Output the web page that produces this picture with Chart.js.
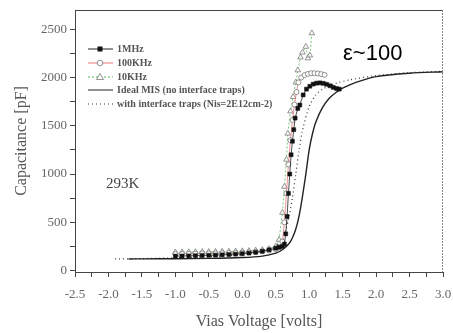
<!DOCTYPE html>
<html>
<head>
<meta charset="utf-8">
<script src="https://cdn.jsdelivr.net/npm/chart.js@4/dist/chart.umd.min.js"></script>
<style>
  html, body { margin: 0; padding: 0; background: #fff; }
  #wrap { width: 453px; height: 333px; }
</style>
</head>
<body>
<div id="wrap"><canvas id="cvChart" width="453" height="333"></canvas></div>
<script>
// ---------- data ----------
const mhzV = [-1.0, -0.9, -0.8, -0.7, -0.6, -0.5, -0.4, -0.3, -0.2, -0.1, 0.0, 0.1, 0.2, 0.3, 0.4, 0.5, 0.55, 0.6, 0.63, 0.65, 0.67, 0.69, 0.71, 0.73, 0.75, 0.77, 0.79, 0.83, 0.86, 0.91, 0.96, 1.01, 1.06, 1.11, 1.16, 1.21, 1.26, 1.31, 1.36, 1.41, 1.45];
const mhzC = [150, 151, 152, 154, 156, 158, 160, 163, 166, 170, 175, 181, 189, 200, 215, 232, 242, 250, 275, 380, 560, 800, 1000, 1200, 1340, 1460, 1580, 1680, 1715, 1820, 1880, 1910, 1932, 1942, 1945, 1940, 1930, 1915, 1898, 1886, 1880];

const khz100V = [-1.0, -0.9, -0.8, -0.7, -0.6, -0.5, -0.4, -0.3, -0.2, -0.1, 0.0, 0.1, 0.2, 0.3, 0.4, 0.5, 0.55, 0.6, 0.63, 0.66, 0.69, 0.72, 0.75, 0.78, 0.81, 0.84, 0.88, 0.93, 0.98, 1.03, 1.08, 1.13, 1.18, 1.23];
const khz100C = [172, 173, 174, 175, 176, 177, 178, 180, 182, 184, 186, 189, 193, 199, 208, 222, 240, 300, 500, 800, 1100, 1350, 1560, 1720, 1850, 1950, 2000, 2025, 2038, 2045, 2045, 2042, 2036, 2028];

const khz10V = [-1.0, -0.9, -0.8, -0.7, -0.6, -0.5, -0.4, -0.3, -0.2, -0.1, 0.0, 0.1, 0.2, 0.3, 0.4, 0.5, 0.55, 0.6, 0.63, 0.66, 0.68, 0.72, 0.76, 0.8, 0.83, 0.87, 0.9, 0.95, 0.98, 1.01, 1.04];
const khz10C = [190, 191, 192, 193, 194, 195, 196, 197, 198, 200, 202, 205, 209, 215, 224, 250, 320, 600, 870, 1150, 1420, 1650, 1800, 1950, 2076, 2210, 2260, 2320, 2200, 2230, 2460];

const idealV = [-1.7, -1.5, -1.0, -0.5, 0.0, 0.3, 0.5, 0.6, 0.7, 0.75, 0.8, 0.85, 0.9, 0.95, 1.0, 1.05, 1.1, 1.2, 1.3, 1.4, 1.5, 1.7, 2.0, 2.5, 3.0];
const idealC = [120, 121, 123, 126, 135, 150, 180, 215, 280, 340, 430, 570, 770, 1000, 1250, 1420, 1540, 1690, 1785, 1845, 1890, 1950, 2010, 2045, 2060];

const trapV = [-1.9, -1.5, -1.0, -0.5, 0.0, 0.3, 0.5, 0.6, 0.65, 0.7, 0.75, 0.8, 0.85, 0.9, 1.0, 1.1, 1.2, 1.4, 1.6, 2.0, 2.5, 3.0];
const trapC = [120, 124, 132, 145, 165, 200, 255, 320, 420, 560, 760, 1000, 1250, 1450, 1700, 1820, 1880, 1940, 1975, 2020, 2050, 2065];

const seriesLabels = ["1MHz", "100KHz", "10KHz", "Ideal MIS (no interface traps)", "with interface traps (Nis=2E12cm-2)"];

// tick positions (minor + major), labels only on the major ones
const xTickValues = [-2.5, -2.25, -2.0, -1.75, -1.5, -1.25, -1.0, -0.75, -0.5, -0.25, 0.0, 0.25, 0.5, 0.75, 1.0, 1.25, 1.5, 1.75, 2.0, 2.25, 2.5, 2.75, 3.0];
const yTickValues = [0, 250, 500, 750, 1000, 1250, 1500, 1750, 2000, 2250, 2500];

function pts(xs, ys) {
    return xs.map((x, i) => ({ x: x, y: ys[i] }));
}

// ---------- little helpers drawn on top ----------
const frameAndNotes = {
    id: "frameAndNotes",
    afterDraw(chart) {
        const ctx = chart.ctx;
        const a = chart.chartArea;
        ctx.save();
        // box round the plot
        ctx.strokeStyle = "#444";
        ctx.lineWidth = 1;
        ctx.beginPath();
        ctx.moveTo(a.left, a.top + 0.5);
        ctx.lineTo(a.right, a.top + 0.5);
        ctx.stroke();
        ctx.strokeStyle = "#888";
        ctx.setLineDash([2, 1]);
        ctx.beginPath();
        ctx.moveTo(a.right - 0.5, a.top);
        ctx.lineTo(a.right - 0.5, a.bottom);
        ctx.stroke();
        ctx.setLineDash([]);

        // legend inside the plot
        const rowsY = [49, 63, 77, 90, 104];
        chart.data.datasets.forEach((ds, i) => {
            const y = rowsY[i];
            ctx.strokeStyle = ds.borderColor;
            ctx.lineWidth = 1;
            ctx.setLineDash(ds.borderDash || []);
            ctx.beginPath();
            ctx.moveTo(88, y);
            ctx.lineTo(113, y);
            ctx.stroke();
            ctx.setLineDash([]);
            if (ds.pointRadius > 0) {
                ctx.fillStyle = ds.pointBackgroundColor;
                ctx.strokeStyle = ds.pointBorderColor;
                ctx.lineWidth = 0.8;
                const cx = 100;
                if (ds.pointStyle === "rect") {
                    ctx.fillRect(cx - 2.5, y - 2.5, 5, 5);
                } else if (ds.pointStyle === "circle") {
                    ctx.beginPath();
                    ctx.arc(cx, y, 2.8, 0, Math.PI * 2);
                    ctx.fill();
                    ctx.stroke();
                } else {
                    ctx.beginPath();
                    ctx.moveTo(cx, y - 3.5);
                    ctx.lineTo(cx + 3.5, y + 2.5);
                    ctx.lineTo(cx - 3.5, y + 2.5);
                    ctx.closePath();
                    ctx.fill();
                    ctx.stroke();
                }
            }
            ctx.fillStyle = "#555";
            ctx.font = "bold 10px 'Liberation Serif', serif";
            ctx.textAlign = "left";
            ctx.textBaseline = "middle";
            ctx.fillText(ds.label, 117, y);
        });

        // notes
        ctx.fillStyle = "#000";
        ctx.font = "22px 'Liberation Sans', sans-serif";
        ctx.textBaseline = "alphabetic";
        ctx.fillText("\u03b5~100", 343, 60);
        ctx.fillStyle = "#444";
        ctx.font = "15px 'Liberation Serif', serif";
        ctx.textBaseline = "middle";
        ctx.fillText("293K", 106, 184);
        ctx.restore();
    }
};

// ---------- chart ----------
const ctxMain = document.getElementById("cvChart").getContext("2d");

new Chart(ctxMain, {
    type: "line",
    data: {
        datasets: [
            {
                label: seriesLabels[0],
                data: pts(mhzV, mhzC),
                borderColor: "#222",
                borderWidth: 0.8,
                pointStyle: "rect",
                pointRadius: 2.8,
                pointBackgroundColor: "#111",
                pointBorderColor: "#111",
                pointBorderWidth: 0.5
            },
            {
                label: seriesLabels[1],
                data: pts(khz100V, khz100C),
                borderColor: "#e77",
                borderWidth: 0.8,
                pointStyle: "circle",
                pointRadius: 2.5,
                pointBackgroundColor: "#fff",
                pointBorderColor: "#777",
                pointBorderWidth: 0.8
            },
            {
                label: seriesLabels[2],
                data: pts(khz10V, khz10C),
                borderColor: "#5b5",
                borderWidth: 0.8,
                borderDash: [2, 2],
                pointStyle: "triangle",
                pointRadius: 3.2,
                pointBackgroundColor: "#fff",
                pointBorderColor: "#777",
                pointBorderWidth: 0.8
            },
            {
                label: seriesLabels[3],
                data: pts(idealV, idealC),
                borderColor: "#222",
                borderWidth: 1.4,
                pointRadius: 0,
                tension: 0.3
            },
            {
                label: seriesLabels[4],
                data: pts(trapV, trapC),
                borderColor: "#333",
                borderWidth: 1.2,
                borderDash: [1, 3],
                pointRadius: 0,
                tension: 0.3
            }
        ]
    },
    options: {
        responsive: false,
        animation: false,
        layout: { padding: { top: 10, right: 10, left: 0, bottom: 0 } },
        plugins: {
            legend: { display: false },
            tooltip: { enabled: false }
        },
        scales: {
            x: {
                type: "linear",
                min: -2.5,
                max: 3.0,
                afterFit: s => { s.height = 61; s.paddingLeft = 0; s.paddingRight = 0; },
                afterBuildTicks: s => { s.ticks = xTickValues.map(v => ({ value: v })); },
                grid: { drawOnChartArea: false, tickLength: 5, color: "#444" },
                border: { color: "#444", width: 1 },
                ticks: {
                    autoSkip: false,
                    maxRotation: 0,
                    padding: 10,
                    color: "#666",
                    font: { family: "'Liberation Serif', serif", size: 13 },
                    callback: v => (Math.abs(v * 2 - Math.round(v * 2)) < 1e-6 ? v.toFixed(1) : "")
                },
                title: {
                    display: true,
                    text: "Vias Voltage [volts]",
                    color: "#555",
                    font: { family: "'Liberation Serif', serif", size: 16 },
                    padding: { top: 0, bottom: 2 }
                }
            },
            y: {
                min: -15,
                max: 2700,
                afterFit: s => { s.width = 75; s.paddingTop = 0; s.paddingBottom = 0; },
                afterBuildTicks: s => { s.ticks = yTickValues.map(v => ({ value: v })); },
                grid: { drawOnChartArea: false, tickLength: 5, color: "#444" },
                border: { color: "#444", width: 1 },
                ticks: {
                    autoSkip: false,
                    padding: 3,
                    color: "#666",
                    font: { family: "'Liberation Serif', serif", size: 13 },
                    callback: v => (Math.round(v) % 500 === 0 ? String(Math.round(v)) : "")
                },
                title: {
                    display: true,
                    text: "Capacitance [pF]",
                    color: "#555",
                    font: { family: "'Liberation Serif', serif", size: 16 },
                    padding: { top: 12, bottom: 0 }
                }
            }
        }
    },
    plugins: [frameAndNotes]
});
</script>
</body>
</html>
